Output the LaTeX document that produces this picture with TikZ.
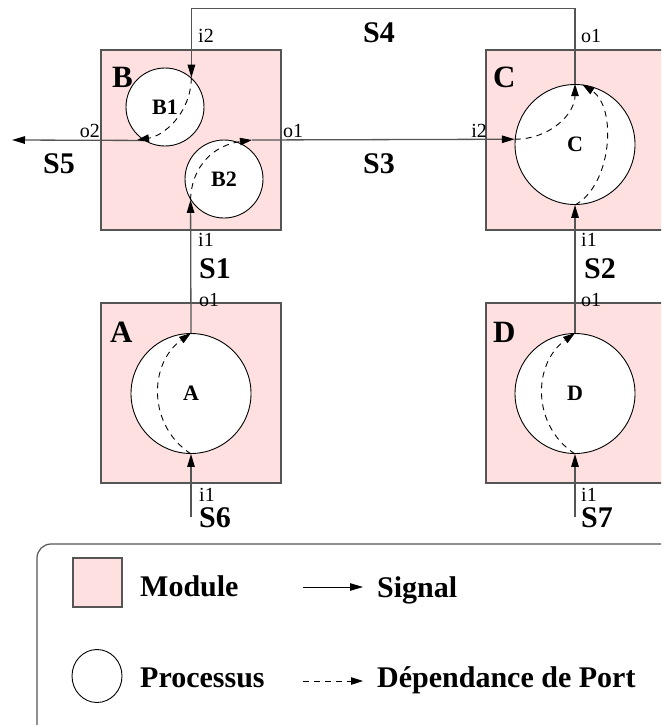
\documentclass[tikz,border=0pt]{standalone}
\usepackage{fontspec}
\setmainfont{Liberation Serif}
\usetikzlibrary{arrows.meta,shapes.geometric}
\definecolor{modpink}{RGB}{255,224,224}
\definecolor{wire}{RGB}{85,85,85}
\begin{document}
\begin{tikzpicture}[x=1pt,y=-1pt,
  module/.style={draw=wire, fill=modpink, line width=1.3pt, minimum width=180pt,
    minimum height=180pt, inner sep=0pt},
  proc/.style={circle, draw=black, fill=white, line width=0.9pt, inner sep=0pt,
    font=\fontsize{22}{25}\selectfont\bfseries},
  signal/.style={draw=wire, line width=1.3pt, -{Triangle[length=13pt,width=7.5pt,color=black]}},
  dep/.style={draw=black, line width=0.9pt, dash pattern=on 6pt off 5pt,
    -{Triangle[length=12pt,width=7.5pt]}},
  modlabel/.style={anchor=base west, inner sep=0pt, font=\fontsize{31}{36}\selectfont\bfseries},
  sig/.style={anchor=base west, inner sep=0pt, font=\fontsize{30}{36}\selectfont\bfseries},
  port/.style={inner sep=0pt, font=\fontsize{20}{24}\selectfont},
  legtext/.style={anchor=base west, inner sep=0pt, font=\fontsize{30}{36}\selectfont\bfseries}
]
\useasboundingbox (0,0) rectangle (661,725);
\clip (0,0) rectangle (661,725);

% modules
\node[module] (mB) at (191,140) {};
\node[module] (mC) at (576,140) {};
\node[module] (mA) at (191,393) {};
\node[module] (mD) at (576,393) {};

\node[modlabel] (lB) at (112,87) {B};
\node[modlabel] (lC) at (493,87) {C};
\node[modlabel] (lA) at (110,342) {A};
\node[modlabel] (lD) at (493,342) {D};

% processes
\node[proc, minimum size=78pt] (pB1) at (165,107) {B1};
\node[proc, minimum size=78pt] (pB2) at (224,179) {B2};
\node[proc, minimum size=120pt] (pC) at (575,144.5) {C};
\node[proc, minimum size=120pt] (pA) at (191,393.5) {A};
\node[proc, minimum size=120pt] (pD) at (575,393.5) {D};

% free ends of signals
\coordinate (s6in) at (191,517);
\coordinate (s7in) at (575,517);
\coordinate (s5out) at (12,140);
\coordinate (s4top) at (383,8.5);
\coordinate (b2out) at (252,140);
\coordinate (b1out) at (137,140);

% signals
\draw[signal] (s6in) -- (pA.south);
\draw[signal] (pA.north) -- (pB2.212.5);
\draw[signal] (s7in) -- (pD.south);
\draw[signal] (pD.north) -- (pC.south);
\draw[signal] (b2out) -- (pC.175);
\draw[signal] (pC.north) |- (s4top) -| (pB1.48);
\draw[signal] (pB1.238) -- (s5out);

% port dependencies
\draw[dep] (pB1.48) .. controls +(-1,37) and +(26,-4) .. (b1out);
\draw[dep] (pB2.212.5) .. controls +(1,-35) and +(-37,5) .. (b2out);
\draw[dep] (pC.175) .. controls +(35,0) and +(0,30) .. (pC.north);
\draw[dep] (pC.south) .. controls +(37,-20) and +(35,23) .. (pC.83);
\draw[dep] (pA.south) .. controls +(-43,-28) and +(-43,31) .. (pA.north);
\draw[dep] (pD.south) .. controls +(-43,-28) and +(-43,31) .. (pD.north);

% port names
\node[port, anchor=base west] (nBi2) at (198,43) {i2};
\node[port, anchor=base east] (nBo2) at (100,137) {o2};
\node[port, anchor=base west] (nBo1) at (283,137) {o1};
\node[port, anchor=base west] (nBi1) at (198,246) {i1};
\node[port, anchor=base east] (nCi2) at (487,137) {i2};
\node[port, anchor=base west] (nCo1) at (581,43) {o1};
\node[port, anchor=base west] (nCi1) at (581,246) {i1};
\node[port, anchor=base west] (nAo1) at (199,306) {o1};
\node[port, anchor=base west] (nAi1) at (199,501) {i1};
\node[port, anchor=base west] (nDo1) at (581,306) {o1};
\node[port, anchor=base west] (nDi1) at (581,501) {i1};

% signal names
\node[sig] (tS4) at (363,43) {S4};
\node[sig] (tS3) at (363,173) {S3};
\node[sig] (tS5) at (43,173) {S5};
\node[sig] (tS1) at (199,278) {S1};
\node[sig] (tS2) at (584,278) {S2};
\node[sig] (tS6) at (199,527) {S6};
\node[sig] (tS7) at (581,527) {S7};

% legend
\draw[draw=wire, line width=1.2pt, rounded corners=14pt] (37,544) rectangle (720,780);
\node[module, minimum width=49pt, minimum height=49pt] (legMod) at (97.5,582.5) {};
\node[ellipse, draw=black, line width=0.9pt, minimum width=50pt, minimum height=53pt,
  inner sep=0pt] (legProc) at (97,676) {};
\node[legtext] (tMod) at (140,596) {Module};
\node[legtext] (tProc) at (140,687) {Processus};
\node[legtext] (tSig) at (377,597) {Signal};
\node[legtext] (tDep) at (377,687) {Dépendance de Port};
\coordinate (sigA) at (303,587);
\coordinate (sigB) at (363,587);
\coordinate (depA) at (303,681);
\coordinate (depB) at (363,681);
\draw[signal, draw=black, line width=0.9pt] (sigA) -- (sigB);
\draw[dep] (depA) -- (depB);
\end{tikzpicture}
\end{document}
